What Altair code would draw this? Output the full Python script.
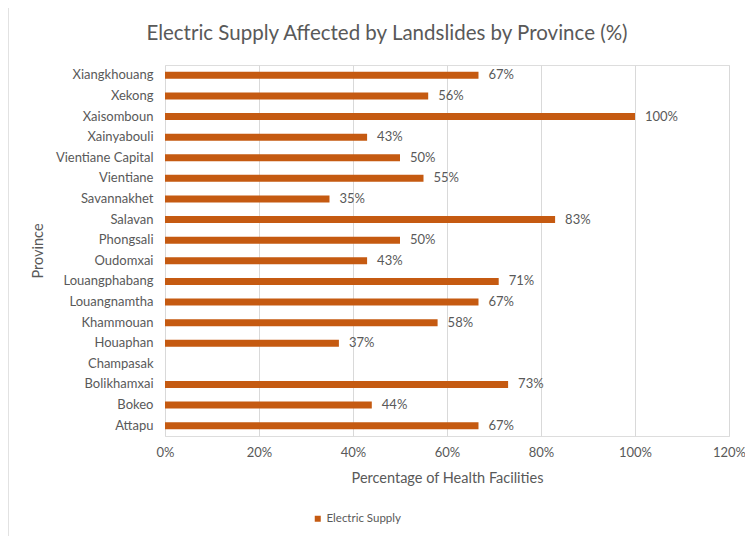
import altair as alt
import pandas as pd

provinces = ["Xiangkhouang", "Xekong", "Xaisomboun", "Xainyabouli", "Vientiane Capital",
             "Vientiane", "Savannakhet", "Salavan", "Phongsali", "Oudomxai",
             "Louangphabang", "Louangnamtha", "Khammouan", "Houaphan", "Champasak",
             "Bolikhamxai", "Bokeo", "Attapu"]
electric = [0.667, 0.56, 1.0, 0.43, 0.50, 0.55, 0.35, 0.83, 0.50, 0.43,
            0.71, 0.667, 0.58, 0.37, None, 0.73, 0.44, 0.667]
series = ["Electric Supply"] * len(provinces)
x_ticks = [0, 0.2, 0.4, 0.6, 0.8, 1.0, 1.2]

df = pd.DataFrame({"Province": provinces, "Value": electric, "Series": series})

FONT = "Lato"
GREY = "#595959"
ORANGE = "#C55A11"
FRAME = "#D9D9D9"

y_enc = alt.Y("Province:N", scale=alt.Scale(domain=provinces, paddingInner=0.66, paddingOuter=0.33),
              axis=alt.Axis(title="Province", labelFontSize=13, labelColor=GREY, labelFont=FONT,
                            titleFont=FONT, titleFontSize=14.5, titleColor=GREY, titleFontWeight="normal",
                            domain=False, ticks=False, labelPadding=12, titlePadding=10))
x_enc = alt.X("Value:Q", scale=alt.Scale(domain=[0, 1.2], nice=False),
              axis=alt.Axis(values=x_ticks, format=".0%", title="Percentage of Health Facilities",
                            labelFontSize=13, labelColor=GREY, labelFont=FONT, labelFlush=False,
                            titleFont=FONT, titleFontSize=14.5, titleColor=GREY, titleFontWeight="normal",
                            domain=False, ticks=False, grid=True, gridColor=FRAME,
                            labelPadding=10, titlePadding=12))

bars = alt.Chart(df).mark_bar(color=ORANGE).encode(
    x=x_enc, y=y_enc,
    color=alt.Color("Series:N", scale=alt.Scale(range=[ORANGE]),
                    legend=alt.Legend(title=None, orient="none", legendX=147, legendY=448,
                                      direction="horizontal", symbolType="square", symbolSize=36,
                                      symbolStrokeWidth=0, labelOffset=3,
                                      labelFont=FONT, labelFontSize=11.5, labelColor=GREY))
)
labels = alt.Chart(df).mark_text(align="left", baseline="middle", dx=10, font=FONT,
                                 fontSize=13, color=GREY).encode(
    x=alt.X("Value:Q"), y=alt.Y("Province:N"), text=alt.Text("Value:Q", format=".0%")
)

frame_df = pd.DataFrame({"frame": ["border"]})
frame_left = alt.Chart(frame_df).mark_rule(color=FRAME, strokeWidth=1.5).encode(
    x=alt.value(-157), y=alt.value(-59), y2=alt.value(480))
frame_top = alt.Chart(frame_df).mark_rule(color=FRAME, strokeWidth=1.5).encode(
    x=alt.value(-157), x2=alt.value(590), y=alt.value(-59))

chart = alt.layer(bars, labels, frame_left, frame_top).properties(
    width=564, height=371,
    title=alt.TitleParams("Electric Supply Affected by Landslides by Province (%)",
                          font=FONT, fontSize=20.5, fontWeight="normal", color=GREY,
                          anchor="middle", frame="group", dx=-60, offset=-39),
    padding={"left": 157, "top": 57, "right": 16, "bottom": 100},
    autosize=alt.AutoSizeParams(type="none"),
).configure_view(stroke=None).configure(background="white")

chart.save("out.html", embed_options={"renderer": "svg", "actions": False})
